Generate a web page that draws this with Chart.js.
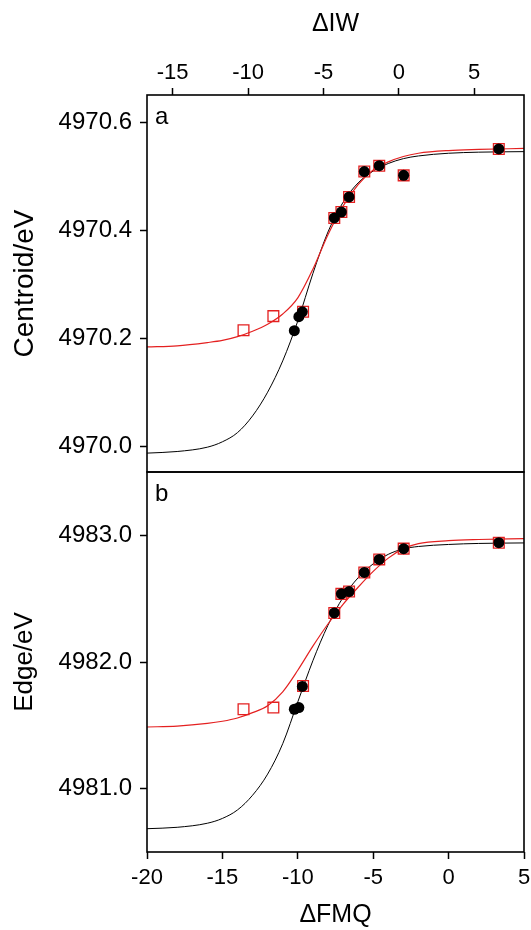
<!DOCTYPE html>
<html>
<head>
<meta charset="utf-8">
<script src="https://cdn.jsdelivr.net/npm/chart.js@4.4.1/dist/chart.umd.min.js"></script>
<style>
  html, body { margin: 0; padding: 0; background: #fff; }
  #wrap { position: relative; width: 531px; height: 930px; }
  #topChart { position: absolute; left: 0; top: 0; }
  #botChart { position: absolute; left: 0; top: 471px; }
</style>
</head>
<body>
<div id="wrap">
  <canvas id="topChart" width="531" height="473"></canvas>
  <canvas id="botChart" width="531" height="459"></canvas>
</div>
<script>
// measured samples, x = ΔFMQ
var blackX = [-10.23, -9.93, -9.70, -7.58, -7.11, -6.60, -5.59, -4.60, -2.98, 3.33];
var redX = [-13.6, -11.62, -9.65, -7.58, -7.11, -6.60, -5.59, -4.60, -2.98, 3.33];

var centroidBlack = [4970.214, 4970.240, 4970.249, 4970.423, 4970.434, 4970.462, 4970.509, 4970.520, 4970.502, 4970.551];
var centroidRed = [4970.215, 4970.241, 4970.249, 4970.423, 4970.434, 4970.462, 4970.509, 4970.520, 4970.502, 4970.551];
var edgeBlack = [4981.627, 4981.640, 4981.807, 4982.387, 4982.538, 4982.556, 4982.707, 4982.810, 4982.895, 4982.942];
var edgeRed = [4981.627, 4981.640, 4981.810, 4982.387, 4982.538, 4982.556, 4982.707, 4982.810, 4982.895, 4982.942];

// fitted curves
var fitX = [-20, -18, -16, -15, -14, -13, -12, -11, -10, -9, -8, -7, -6, -5, -4, -3, -2, 0, 2, 5];
var centroidFitBlack = [4969.987, 4969.990, 4969.998, 4970.008, 4970.025, 4970.056, 4970.100, 4970.158, 4970.232, 4970.320, 4970.397, 4970.452, 4970.488, 4970.510, 4970.524, 4970.533, 4970.538, 4970.543, 4970.545, 4970.546];
var centroidFitRed = [4970.184, 4970.186, 4970.192, 4970.196, 4970.203, 4970.213, 4970.226, 4970.245, 4970.275, 4970.328, 4970.392, 4970.445, 4970.485, 4970.512, 4970.527, 4970.537, 4970.543, 4970.548, 4970.550, 4970.552];
var edgeFitBlack = [4980.684, 4980.695, 4980.727, 4980.765, 4980.832, 4980.948, 4981.115, 4981.355, 4981.685, 4982.010, 4982.290, 4982.510, 4982.665, 4982.775, 4982.850, 4982.893, 4982.912, 4982.928, 4982.936, 4982.940];
var edgeFitRed = [4981.487, 4981.494, 4981.515, 4981.532, 4981.558, 4981.600, 4981.655, 4981.765, 4981.935, 4982.125, 4982.300, 4982.455, 4982.590, 4982.715, 4982.820, 4982.895, 4982.935, 4982.958, 4982.967, 4982.974];

// tick labels
var fmqTicks = [-20, -15, -10, -5, 0, 5];
var iwTicks = [-15, -10, -5, 0, 5];
var centroidTicks = [4970.0, 4970.2, 4970.4, 4970.6];
var edgeTicks = [4981.0, 4982.0, 4983.0];
var iwOffset = 3.3; // ΔIW = ΔFMQ + 3.3

var RED = 'rgb(228,32,32)';
Chart.defaults.font.family = "'Liberation Sans', Arial, sans-serif";
Chart.defaults.color = '#000';

function pts(xs, ys) {
    return xs.map(function(x, i) { return {x: x, y: ys[i]}; });
}
function setTicks(list) {
    return function(scale) { scale.ticks = list.map(function(v) { return {value: v}; }); };
}
// fix an axis' thickness and drop the label overflow padding
function fixSize(prop, size) {
    return function(s) {
        s[prop] = size;
        s.paddingTop = 0; s.paddingBottom = 0; s.paddingLeft = 0; s.paddingRight = 0;
    };
}

var frame = {
    id: 'frame',
    afterDraw: function(chart, args, opts) {
        var a = chart.chartArea, ctx = chart.ctx;
        ctx.save();
        ctx.strokeStyle = '#000';
        ctx.lineWidth = 1.6;
        ctx.strokeRect(a.left, a.top, a.right - a.left, a.bottom - a.top);
        ctx.font = "24px 'Liberation Sans', Arial, sans-serif";
        ctx.fillStyle = '#000';
        ctx.fillText(opts.label, a.left + 8, a.top + opts.dy);
        ctx.restore();
    }
};

function datasets(bx, by, rx, ry, fb, fr) {
    return [
        {data: pts(bx, by), pointStyle: 'circle', pointRadius: 5.5, backgroundColor: '#000', borderColor: '#000', borderWidth: 0, order: 1},
        {data: pts(rx, ry), pointStyle: 'rect', pointRadius: 7.6, backgroundColor: 'rgba(0,0,0,0)', borderColor: RED, borderWidth: 1.3, order: 2},
        {data: pts(fitX, fr), showLine: true, pointRadius: 0, borderColor: RED, borderWidth: 1.2, cubicInterpolationMode: 'monotone', order: 3},
        {data: pts(fitX, fb), showLine: true, pointRadius: 0, borderColor: '#000', borderWidth: 1, cubicInterpolationMode: 'monotone', order: 4}
    ];
}

var tickGrid = {display: true, drawOnChartArea: false, drawTicks: true, tickLength: 7, tickColor: '#000', tickWidth: 1.5};

new Chart(document.getElementById('topChart'), {
    type: 'scatter',
    data: {datasets: datasets(blackX, centroidBlack, redX, centroidRed, centroidFitBlack, centroidFitRed)},
    options: {
        responsive: false,
        animation: false,
        layout: {autoPadding: false, padding: {left: 0, right: 7, top: 0, bottom: 1}},
        plugins: {legend: {display: false}, tooltip: {enabled: false}, frame: {label: 'a', dy: 29}},
        scales: {
            x: {type: 'linear', display: false, min: -20, max: 5},
            x2: {
                type: 'linear', position: 'top', min: -20 + iwOffset, max: 5 + iwOffset,
                afterBuildTicks: setTicks(iwTicks),
                afterFit: fixSize('height', 95),
                grid: tickGrid, border: {display: false},
                ticks: {font: {size: 22}, padding: 2, maxRotation: 0, callback: function(v) { return v; }},
                title: {display: true, text: 'ΔIW', font: {size: 25}, padding: {top: 9, bottom: 0}}
            },
            y: {
                type: 'linear', min: 4969.952, max: 4970.651,
                afterBuildTicks: setTicks(centroidTicks),
                afterFit: fixSize('width', 147),
                grid: tickGrid, border: {display: false},
                ticks: {font: {size: 24}, padding: 8, callback: function(v) { return v.toFixed(1); }},
                title: {display: true, text: 'Centroid/eV', font: {size: 28}, padding: {top: 8, bottom: 0}}
            }
        }
    },
    plugins: [frame]
});

new Chart(document.getElementById('botChart'), {
    type: 'scatter',
    data: {datasets: datasets(blackX, edgeBlack, redX, edgeRed, edgeFitBlack, edgeFitRed)},
    options: {
        responsive: false,
        animation: false,
        layout: {autoPadding: false, padding: {left: 0, right: 7, top: 1, bottom: 0}},
        plugins: {legend: {display: false}, tooltip: {enabled: false}, frame: {label: 'b', dy: 29}},
        scales: {
            x: {
                type: 'linear', position: 'bottom', min: -20, max: 5,
                afterBuildTicks: setTicks(fmqTicks),
                afterFit: fixSize('height', 78),
                grid: tickGrid, border: {display: false},
                ticks: {font: {size: 22}, padding: 6, maxRotation: 0, callback: function(v) { return v; }},
                title: {display: true, text: 'ΔFMQ', font: {size: 25}, padding: {top: 0, bottom: 0}}
            },
            y: {
                type: 'linear', min: 4980.5, max: 4983.5,
                afterBuildTicks: setTicks(edgeTicks),
                afterFit: fixSize('width', 147),
                grid: tickGrid, border: {display: false},
                ticks: {font: {size: 24}, padding: 8, callback: function(v) { return v.toFixed(1); }},
                title: {display: true, text: 'Edge/eV', font: {size: 26}, padding: {top: 9, bottom: 0}}
            }
        }
    },
    plugins: [frame]
});
</script>
</body>
</html>
